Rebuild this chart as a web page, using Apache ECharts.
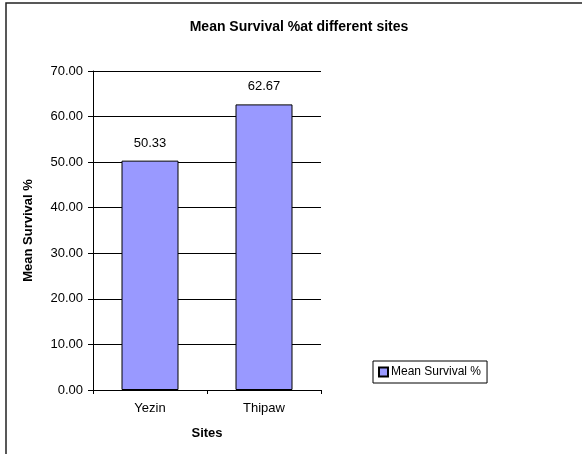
<!DOCTYPE html>
<html>
<head>
<meta charset="utf-8">
<script src="https://cdn.jsdelivr.net/npm/echarts@6/dist/echarts.min.js"></script>
<style>
    html, body { margin: 0; padding: 0; background: #fff; }
    #chart { width: 582px; height: 454px; }
</style>
</head>
<body>
<div id="chart"></div>
<script>
// Data
const sites = ['Yezin', 'Thipaw'];
const meanSurvival = [50.33, 62.67];
const seriesName = 'Mean Survival %';

const fontFamily = '"Liberation Sans", Arial, sans-serif';

const chart = echarts.init(document.getElementById('chart'));

const options = {
    backgroundColor: '#fff',
    animation: false,
    textStyle: {
        fontFamily: fontFamily,
        color: '#000'
    },
    title: {
        text: 'Mean Survival %at different sites',
        left: 294,
        top: 15,
        textAlign: 'center',
        textStyle: {
            fontSize: 14,
            fontWeight: 'bold',
            color: '#000',
            fontFamily: fontFamily
        }
    },
    // outer chart frame, only top and left edges are visible
    graphic: [{
        type: 'rect',
        shape: { x: 6, y: 3, width: 700, height: 600 },
        style: { fill: 'none', stroke: '#222', lineWidth: 1.5 },
        silent: true
    }],
    legend: {
        left: 373,
        top: 361,
        data: [seriesName],
        icon: 'rect',
        itemWidth: 9,
        itemHeight: 9,
        itemGap: 0,
        padding: [5, 6, 5, 5],
        borderColor: '#000',
        borderWidth: 1,
        textStyle: {
            fontSize: 12,
            color: '#000',
            fontFamily: fontFamily,
            padding: [0, 0, 0, -2]
        }
    },
    grid: {
        left: 93,
        top: 71,
        right: 261,
        bottom: 64
    },
    xAxis: {
        type: 'category',
        data: sites,
        name: 'Sites',
        nameLocation: 'middle',
        nameGap: 37,
        nameTextStyle: {
            fontSize: 13,
            fontWeight: 'bold',
            color: '#000'
        },
        axisLine: {
            lineStyle: { color: '#000', width: 1 }
        },
        axisTick: {
            show: true,
            length: 4,
            alignWithLabel: false,
            lineStyle: { color: '#000' }
        },
        axisLabel: {
            fontSize: 13,
            color: '#000',
            margin: 12
        }
    },
    yAxis: {
        type: 'value',
        min: 0,
        max: 70,
        interval: 10,
        name: 'Mean Survival %',
        nameLocation: 'middle',
        nameRotate: 90,
        nameGap: 58,
        nameTextStyle: {
            fontSize: 13,
            fontWeight: 'bold',
            color: '#000'
        },
        axisLine: {
            show: true,
            lineStyle: { color: '#000', width: 1 }
        },
        axisTick: {
            show: true,
            length: 5,
            lineStyle: { color: '#000' }
        },
        axisLabel: {
            fontSize: 13,
            color: '#000',
            margin: 10,
            formatter: (value) => value.toFixed(2)
        },
        splitLine: {
            show: true,
            lineStyle: { color: '#000', width: 1 }
        }
    },
    series: [
        {
            name: seriesName,
            type: 'bar',
            data: meanSurvival,
            barWidth: '50%',
            itemStyle: {
                color: '#9999FF',
                borderColor: '#000',
                borderWidth: 1
            },
            label: {
                show: true,
                position: 'top',
                distance: 11,
                fontSize: 13,
                color: '#000',
                formatter: (p) => p.value.toFixed(2)
            }
        }
    ]
};

chart.setOption(options);
</script>
</body>
</html>
